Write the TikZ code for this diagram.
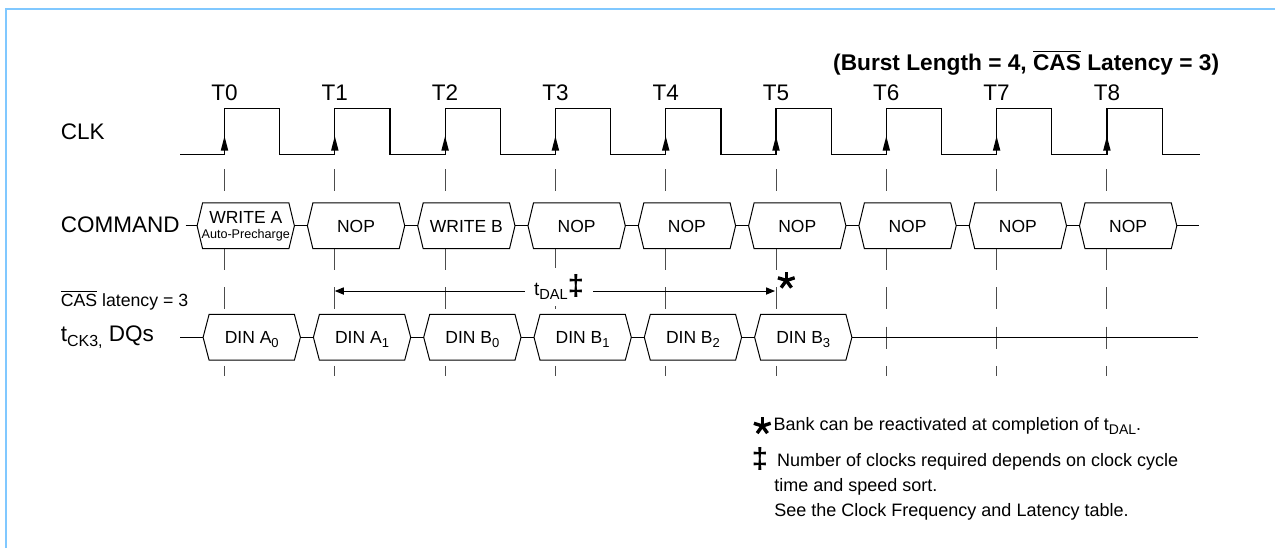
\documentclass[tikz,border=0pt]{standalone}
\usepackage{fontspec}
\setmainfont{Liberation Sans}
\usetikzlibrary{arrows.meta}
\definecolor{frameblue}{RGB}{128,200,255}
\newcommand\ovl[1]{$\overline{\mbox{#1}}$}
\newcommand\lo[2]{\raisebox{-0.45ex}{\fontsize{#1}{#1}\selectfont #2}}
\begin{document}
\begin{tikzpicture}[x=0.5pt,y=-0.5pt,
  lbl/.style={inner sep=0pt, font=\fontsize{11.25}{13}\selectfont},
  note/.style={inner sep=0pt, font=\fontsize{9}{11}\selectfont},
  grid/.style={draw=black!70, line width=0.5pt, dash pattern=on 11pt off 8.65pt},
  clk/.style={draw=black, line width=0.6pt},
  wire/.style={draw=black, line width=0.5pt},
  hexline/.style={draw=black, line width=0.5pt},
  hexnode/.style={fill=white, inner sep=0pt, minimum width=48.25pt, minimum height=22.5pt, font=\fontsize{8.75}{10}\selectfont},
  one/.style={text height=6.27pt, text depth=0pt},
  astk/.pic={\foreach \a in {90,162,234,306,18} \draw[line width=1.7pt] (0,0) -- (\a:4.4pt);}
]
\useasboundingbox (0,0) rectangle (1275,548);
% frame
\draw[frameblue, line width=1pt] (6,548) -- (6,8.7) -- (1275,8.7);

% dashed clock-edge guides
\foreach \i in {0,...,8} {
  \pgfmathsetmacro\tx{224.5+110.3*\i}
  \coordinate (vt\i) at (\tx,169.3);
  \coordinate (vb\i) at (\tx,376);
  \draw[grid] (vt\i) -- (vb\i);
}

% clock
\draw[clk] (180.4,154.3) \foreach \i in {0,...,8}{ -- ({224.5+110.3*\i},154.3) -- ++(0,-46) -- ++(55.2,0) -- ++(0,46)} -- (1199.7,154.3);
\foreach \i in {0,...,8} \fill ({224.5+110.3*\i},136.2) -- ++(-3.8,14.5) -- ++(7.6,0) -- cycle;
\foreach \i in {0,...,8} \node[lbl, anchor=base] (t\i) at ({224.5+110.3*\i},100) {T\i};

% title and row labels
\node[anchor=base west, inner sep=0pt, font=\bfseries\fontsize{11.35}{13}\selectfont] (title) at (832.8,70) {(Burst Length = 4, \ovl{CAS} Latency = 3)};
\node[lbl, anchor=base west] (clklbl) at (60.4,139.3) {CLK};
\node[lbl, anchor=base west] (cmdlbl) at (60.4,232.3) {COMMAND};
\node[anchor=base west, inner sep=0pt, font=\fontsize{8.85}{10}\selectfont] (caslbl) at (60.4,306.7) {\ovl{CAS} latency = 3};
\node[lbl, anchor=base west] (dqlbl) at (60.4,341) {t\lo{8}{CK3,} DQs};

% command boxes
\node[hexnode, align=center] (c0) at ({224.5+21.25},225.8) {WRITE A\\[-2.5pt]{\fontsize{6.3}{7}\selectfont Auto-Precharge}};
\foreach \i/\txt in {1/NOP,2/WRITE B,3/NOP,4/NOP,5/NOP,6/NOP,7/NOP,8/NOP}
  \node[hexnode, one] (c\i) at ({224.5+110.3*\i+21.25},225.8) {\txt};
\foreach \i in {0,...,8}
  \draw[hexline] (c\i.west) -- ([xshift=2.75pt]c\i.north west) -- ([xshift=-2.75pt]c\i.north east) -- (c\i.east) -- ([xshift=-2.75pt]c\i.south east) -- ([xshift=2.75pt]c\i.south west) -- cycle;
\coordinate (cmdstart) at (185.7,225.8);
\coordinate (cmdend) at (1199,225.8);
\draw[wire] (cmdstart) -- (c0.west);
\foreach \i [evaluate=\i as \j using int(\i+1)] in {0,...,7} \draw[wire] (c\i.east) -- (c\j.west);
\draw[wire] (c8.east) -- (cmdend);

% data boxes
\foreach \i/\txt in {0/{DIN A\lo{6.5}{0}},1/{DIN A\lo{6.5}{1}},2/{DIN B\lo{6.5}{0}},3/{DIN B\lo{6.5}{1}},4/{DIN B\lo{6.5}{2}},5/{DIN B\lo{6.5}{3}}}
  \node[hexnode, one] (d\i) at ({224.5+110.3*\i+27.25},337.3) {\txt};
\foreach \i in {0,...,5}
  \draw[hexline] (d\i.west) -- ([xshift=3pt]d\i.north west) -- ([xshift=-3pt]d\i.north east) -- (d\i.east) -- ([xshift=-3pt]d\i.south east) -- ([xshift=3pt]d\i.south west) -- cycle;
\coordinate (dqstart) at (180.4,337.3);
\coordinate (dqend) at (1198,337.3);
\draw[wire] (dqstart) -- (d0.west);
\foreach \i [evaluate=\i as \j using int(\i+1)] in {0,...,4} \draw[wire] (d\i.east) -- (d\j.west);
\draw[wire] (d5.east) -- (dqend);

% tDAL
\coordinate (dalL) at (334.8,291);
\coordinate (dalR) at (775,291);
\draw[wire, {Triangle[length=4.5pt,width=3.6pt]}-{Triangle[length=4.5pt,width=3.6pt]}] (dalL) -- (dalR);
\node[fill=white, inner xsep=4.5pt, inner ysep=3pt, font=\fontsize{9.5}{11}\selectfont] (dal) at (559,287) {t\lo{7.3}{DAL}{\bfseries\fontsize{14.5}{15}\selectfont ‡}};
\pic at (786.3,280.5) {astk};

% notes
\pic at (762.3,426) {astk};
\node[note, anchor=base west] (n1) at (773.3,430.7) {Bank can be reactivated at completion of t\lo{7}{DAL}.};
\node[inner sep=0pt, anchor=base west, font=\bfseries\fontsize{14.5}{15}\selectfont] (n2sym) at (751.5,468) {‡};
\node[note, anchor=base west] (n2) at (776.7,466.7) {Number of clocks required depends on clock cycle};
\node[note, anchor=base west] (n3) at (774,491) {time and speed sort.};
\node[note, anchor=base west] (n4) at (774,516) {See the Clock Frequency and Latency table.};
\end{tikzpicture}
\end{document}
